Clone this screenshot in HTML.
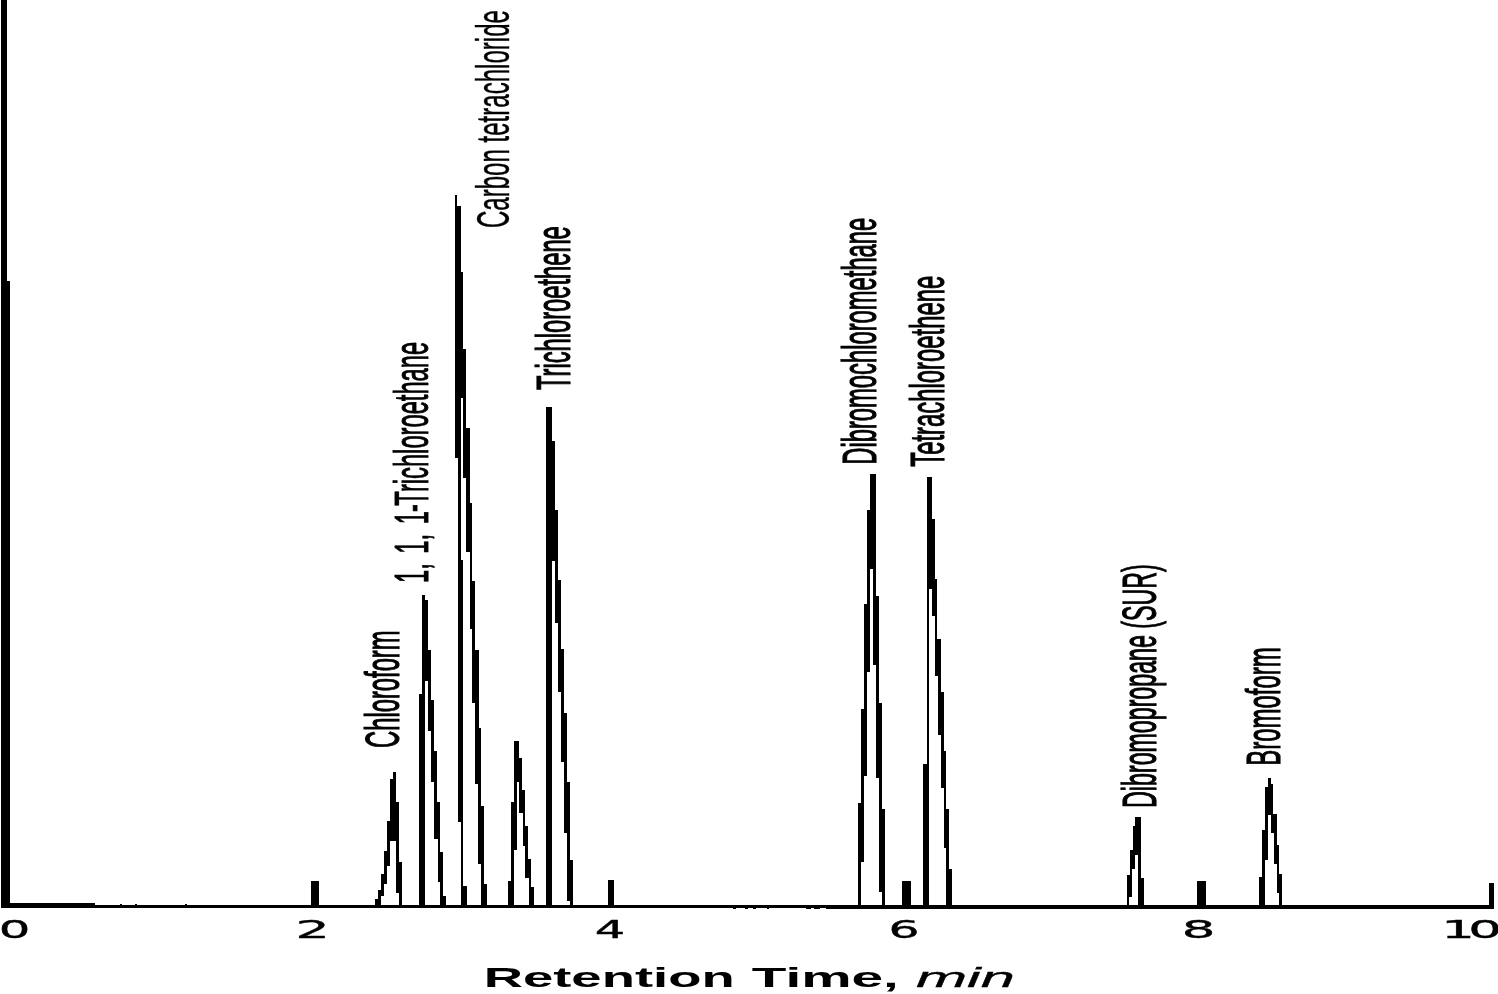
<!DOCTYPE html>
<html lang="en">
<head>
<meta charset="utf-8">
<title>Chromatogram - Retention Time, min</title>
<style>
html,body{margin:0;padding:0;background:#fff;}
body{width:1498px;height:994px;overflow:hidden;position:relative;}
svg{position:absolute;left:0;top:0;display:block;}
.lab{font-family:"Liberation Sans",sans-serif;font-size:49px;fill:#000;}
.tick{font-family:"DejaVu Sans","Liberation Sans",sans-serif;font-size:24px;fill:#000;stroke:#000;stroke-width:0.35px;}
.ttl{font-family:"Liberation Sans",sans-serif;font-weight:bold;font-size:28.5px;fill:#000;}
.ttl .it{font-style:italic;font-weight:normal;stroke:#000;stroke-width:0.5px;vector-effect:non-scaling-stroke;}
.lab text{stroke:#000;stroke-width:0.9px;vector-effect:non-scaling-stroke;}
</style>
</head>
<body>
<svg width="1498" height="994" viewBox="0 0 1498 994">
<rect x="0" y="0" width="1498" height="994" fill="#fff"/>
<g shape-rendering="crispEdges" fill="#000">

<rect x="1" y="0" width="6" height="908"/>
<rect x="1" y="281" width="9" height="627"/>
<rect x="1" y="905" width="1493" height="3"/>
<rect x="1" y="903" width="94" height="5"/>
<rect x="826" y="905" width="668" height="4"/>
<rect x="733" y="908" width="3" height="1"/>
<rect x="745" y="908" width="3" height="1"/>
<rect x="753" y="908" width="3" height="1"/>
<rect x="767" y="908" width="2" height="1"/>
<rect x="806" y="908" width="5" height="1"/>
<rect x="814" y="908" width="6" height="1"/>
<rect x="120" y="904" width="2" height="1"/>
<rect x="135" y="904" width="2" height="1"/>
<rect x="185" y="904" width="2" height="1"/>
<rect x="310.5" y="880.5" width="8.50" height="27.0"/>
<rect x="608" y="879.5" width="5.75" height="28.0"/>
<rect x="902.3" y="881" width="8.70" height="26.5"/>
<rect x="1197.25" y="881" width="8.25" height="26.5"/>
<rect x="1488.8" y="882.5" width="5.40" height="26.5"/>
<polygon points="396.0,772.0 396.0,801.5 398.5,801.5 398.5,862.0 401.5,862.0 401.5,906.0 375.0,906.0 375.0,899.0 378.0,899.0 378.0,890.0 381.0,890.0 381.0,874.0 384.0,874.0 384.0,851.0 387.0,851.0 387.0,821.0 390.0,821.0 390.0,779.0 393.0,779.0 393.0,772.0"/>
<polygon fill="#fff" points="396.0,841.0 396.0,893.0 399.4,893.0 399.4,905.0 381.0,905.0 381.0,895.8 384.0,895.8 384.0,883.7 387.3,883.7 387.3,865.6 390.0,865.6 390.0,841.0"/>
<polygon points="425.4,595.3 425.4,599.8 428.4,599.8 428.4,650.4 431.4,650.4 431.4,700.2 434.1,700.2 434.1,750.8 437.2,750.8 437.2,802.4 440.0,802.4 440.0,852.0 443.0,852.0 443.0,895.7 446.3,895.7 446.3,906.0 419.4,906.0 419.4,694.0 422.4,694.0 422.4,595.3"/>
<polygon fill="#fff" points="428.4,681.3 428.4,731.0 431.4,731.0 431.4,781.6 434.3,781.6 434.3,838.7 437.6,838.7 437.6,882.0 440.3,882.0 440.3,905.0 425.4,905.0 425.4,681.3"/>
<polygon points="457.3,194.7 457.3,205.5 460.5,205.5 460.5,271.5 463.4,271.5 463.4,349.4 466.4,349.4 466.4,427.9 469.6,427.9 469.6,502.5 472.4,502.5 472.4,581.4 475.3,581.4 475.3,650.4 478.5,650.4 478.5,728.0 481.2,728.0 481.2,806.0 484.1,806.0 484.1,884.0 487.4,884.0 487.4,906.0 461.1,906.0 461.1,822.0 457.7,822.0 457.7,458.0 454.7,458.0 454.7,194.7"/>
<polygon fill="#fff" points="463.4,397.6 463.4,477.6 466.4,477.6 466.4,552.0 469.6,552.0 469.6,628.5 472.1,628.5 472.1,703.0 475.4,703.0 475.4,784.0 478.3,784.0 478.3,864.0 481.4,864.0 481.4,905.0 466.6,905.0 466.6,885.7 463.4,885.7 463.4,560.0 460.5,560.0 460.5,397.6"/>
<polygon points="519.4,740.5 519.4,758.0 522.2,758.0 522.2,789.8 525.2,789.8 525.2,826.0 528.1,826.0 528.1,858.6 530.9,858.6 530.9,887.2 533.9,887.2 533.9,906.0 507.7,906.0 507.7,881.2 510.9,881.2 510.9,802.0 514.0,802.0 514.0,740.5"/>
<polygon fill="#fff" points="519.4,782.2 519.4,813.3 522.5,813.3 522.5,846.0 525.4,846.0 525.4,877.6 528.5,877.6 528.5,905.0 513.7,905.0 513.7,850.4 516.7,850.4 516.7,782.2"/>
<polygon points="552.1,406.5 552.1,441.1 554.9,441.1 554.9,510.3 557.7,510.3 557.7,579.5 560.7,579.5 560.7,648.7 563.5,648.7 563.5,712.5 566.8,712.5 566.8,782.0 569.6,782.0 569.6,860.0 572.5,860.0 572.5,906.0 546.2,906.0 546.2,406.5"/>
<polygon fill="#fff" points="554.9,560.5 554.9,622.7 557.7,622.7 557.7,692.0 560.7,692.0 560.7,762.4 563.6,762.4 563.6,833.0 566.9,833.0 566.9,901.0 569.6,901.0 569.6,905.0 552.1,905.0 552.1,560.5"/>
<polygon points="875.6,474.0 875.6,596.3 878.5,596.3 878.5,703.0 881.9,703.0 881.9,809.0 885.1,809.0 885.1,906.0 858.1,906.0 858.1,802.7 861.3,802.7 861.3,708.8 864.2,708.8 864.2,604.2 867.0,604.2 867.0,509.8 869.9,509.8 869.9,474.0"/>
<polygon fill="#fff" points="872.8,569.1 872.8,665.0 875.6,665.0 875.6,777.8 879.0,777.8 879.0,892.0 882.4,892.0 882.4,905.0 861.3,905.0 861.3,861.6 864.2,861.6 864.2,775.6 867.0,775.6 867.0,672.0 869.9,672.0 869.9,569.1"/>
<polygon points="931.7,476.8 931.7,518.9 934.9,518.9 934.9,578.9 937.4,578.9 937.4,638.9 940.5,638.9 940.5,692.0 943.5,692.0 943.5,750.7 946.4,750.7 946.4,809.0 949.1,809.0 949.1,868.8 952.1,868.8 952.1,906.0 923.1,906.0 923.1,764.0 926.5,764.0 926.5,476.8"/>
<polygon fill="#fff" points="932.2,589.1 932.2,615.6 934.9,615.6 934.9,675.5 937.8,675.5 937.8,734.8 940.8,734.8 940.8,788.0 943.5,788.0 943.5,847.6 946.4,847.6 946.4,905.0 929.2,905.0 929.2,589.1"/>
<polygon points="1140.8,816.6 1140.8,878.0 1143.5,878.0 1143.5,906.0 1126.6,906.0 1126.6,875.3 1129.6,875.3 1129.6,849.8 1132.5,849.8 1132.5,826.0 1135.2,826.0 1135.2,816.6"/>
<polygon fill="#fff" points="1138.0,855.4 1138.0,905.0 1129.0,905.0 1129.0,897.4 1132.1,897.4 1132.1,868.6 1135.2,868.6 1135.2,855.4"/>
<polygon points="1270.7,777.8 1270.7,783.7 1273.3,783.7 1273.3,813.6 1276.5,813.6 1276.5,845.0 1279.4,845.0 1279.4,873.8 1282.3,873.8 1282.3,906.0 1259.0,906.0 1259.0,876.7 1261.9,876.7 1261.9,830.4 1264.8,830.4 1264.8,786.9 1267.7,786.9 1267.7,777.8"/>
<polygon fill="#fff" points="1270.7,814.6 1270.7,832.9 1273.9,832.9 1273.9,864.3 1276.5,864.3 1276.5,893.2 1279.4,893.2 1279.4,905.0 1264.8,905.0 1264.8,859.9 1267.7,859.9 1267.7,814.6"/>
</g>
<g class="lab">
<text id="lab0" transform="translate(399,748.00) rotate(-90) scale(0.4854,1)" x="0" y="0">Chloroform</text>
<text id="lab1" style="font-size:47.5px" transform="translate(428.3,583.01) rotate(-90) scale(0.4993,1)" x="0" y="0">1,<tspan dx="6"> 1,</tspan><tspan dx="6"> 1</tspan><tspan dx="-2">-</tspan><tspan dx="-3">Trichloroethane</tspan></text>
<text id="lab2" style="font-size:47px;stroke-width:0.35px" transform="translate(508.8,228.05) rotate(-90) scale(0.5119,1)" x="0" y="0">Carbon tetrachloride</text>
<text id="lab3" style="font-size:47.5px" transform="translate(569.8,390.00) rotate(-90) scale(0.4991,1)" x="0" y="0">Trichloroethene</text>
<text id="lab4" transform="translate(875.5,464.75) rotate(-90) scale(0.4851,1)" x="0" y="0">Dibromochloromethane</text>
<text id="lab5" transform="translate(943.8,466.80) rotate(-90) scale(0.4872,1)" x="0" y="0">Tetrachloroethene</text>
<text id="lab6" transform="translate(1155.8,807.89) rotate(-90) scale(0.4734,1)" x="0" y="0">Dibromopropane (SUR)</text>
<text id="lab7" style="font-size:47.5px" transform="translate(1279.5,765.85) rotate(-90) scale(0.5050,1)" x="0" y="0">Bromoform</text>
</g>
<g class="tick">
<text id="tk0" transform="translate(14.52,938) scale(2.0738,1)" x="0" y="0" text-anchor="middle">0</text>
<text id="tk1" transform="translate(312.56,938) scale(2.2506,1)" x="0" y="0" text-anchor="middle">2</text>
<text id="tk2" transform="translate(610.05,938) scale(1.9938,1)" x="0" y="0" text-anchor="middle">4</text>
<text id="tk3" transform="translate(903.96,938) scale(2.0303,1)" x="0" y="0" text-anchor="middle">6</text>
<text id="tk4" transform="translate(1198.52,938) scale(2.2052,1)" x="0" y="0" text-anchor="middle">8</text>
<text id="tk5" transform="translate(1441.20,938) scale(2.2000,1)" x="0" y="0">1<tspan dx="-3">0</tspan></text>
</g>
<g class="ttl">
<text id="w0" class="w" transform="translate(483.68,987.3) scale(1.9103,1)" x="0" y="0">Retention</text>
<text id="w1" class="w" transform="translate(751.83,987.3) scale(1.9893,1)" x="0" y="0">Time,</text>
<text id="w2" class="w it" transform="translate(915.92,987.3) scale(2.1573,1)" x="0" y="0">min</text>
</g>
</svg>
</body>
</html>
